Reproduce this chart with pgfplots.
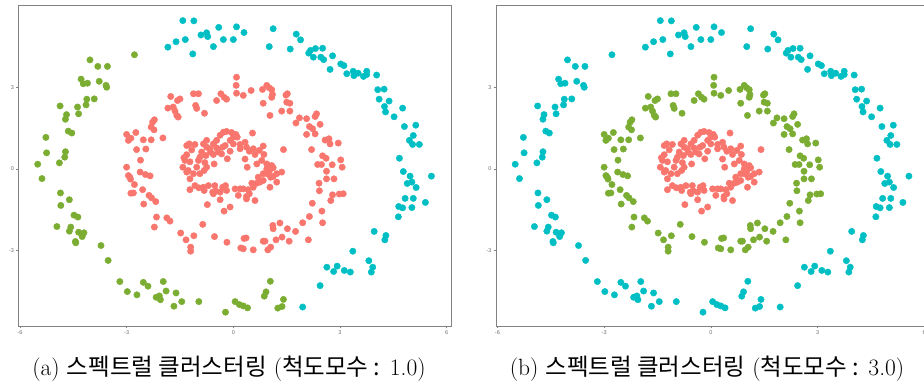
\documentclass[border=0pt]{standalone}
\usepackage{fontspec}
\usepackage{pgfplots}
\usepackage{pgfplotstable}
\pgfplotsset{compat=1.18}
\newfontfamily\kr{Noto Sans CJK KR}
\newfontfamily\tickfont{Liberation Sans}
\definecolor{cred}{HTML}{F8766D}
\definecolor{cgreen}{RGB}{122,173,50}
\definecolor{cteal}{HTML}{00BFC4}
\definecolor{frame}{RGB}{130,130,130}
\definecolor{ticktext}{RGB}{110,110,110}

% outer ring, part coloured green in panel (a)
\pgfplotstableread{
x y
-2.78 4.21
-4.03 4.02
-3.81 3.78
-3.54 3.78
-4.28 3.31
-4.22 3.14
-4.10 3.16
-3.77 3.23
-3.58 3.08
-3.56 3.01
-4.12 2.57
-3.91 2.58
-4.14 2.36
-4.87 2.32
-4.38 2.28
-4.69 2.00
-4.35 2.03
-4.72 1.83
-4.64 1.39
-4.54 1.32
-5.27 1.16
-5.25 0.59
-4.72 0.63
-4.74 0.43
-4.89 0.22
-5.50 0.17
-5.38 -0.36
-4.86 -0.89
-4.85 -1.35
-4.61 -1.14
-4.48 -1.71
-4.37 -1.78
-4.96 -2.13
-4.57 -2.15
-4.61 -2.30
-4.35 -2.34
-4.20 -2.36
-4.25 -2.50
-4.44 -2.68
-4.43 -2.73
-3.72 -2.83
-3.52 -3.38
-3.19 -4.16
-2.98 -4.53
-2.71 -4.65
-2.53 -4.19
-2.40 -4.33
-2.17 -4.74
-2.05 -4.83
-2.08 -4.69
-1.97 -4.16
-1.89 -4.51
-1.61 -4.58
-1.67 -5.07
-1.45 -4.90
-0.97 -4.90
-0.22 -5.29
0.05 -4.90
0.17 -5.01
0.28 -5.06
0.40 -5.13
0.87 -4.70
0.92 -4.54
1.04 -4.15
1.25 -5.14
1.41 -4.82
1.37 -5.08
}\outerG

% outer ring, part coloured teal in panel (a)
\pgfplotstableread{
x y
-1.42 5.47
-1.11 5.46
-0.41 5.22
0.09 5.24
0.30 5.03
-0.91 4.94
-0.75 5.02
-0.72 4.88
-1.61 4.69
-1.35 4.77
-1.84 4.49
-1.14 4.24
-0.56 4.51
-0.28 4.77
0.00 4.77
1.12 5.17
1.01 4.51
1.77 4.97
1.89 4.76
1.60 4.42
2.12 4.27
2.17 4.37
2.31 4.44
2.51 4.45
2.25 4.12
2.46 4.12
2.54 4.03
2.79 4.17
2.72 3.67
3.02 3.87
3.11 3.81
3.19 3.51
3.37 3.60
3.39 3.44
3.51 3.53
3.66 3.41
3.75 3.60
3.75 3.48
4.03 3.46
4.06 2.92
4.24 2.94
4.10 2.57
4.38 2.50
4.25 2.30
4.28 2.10
4.52 1.92
4.76 2.24
4.81 1.56
5.13 1.61
5.06 1.23
4.95 1.05
5.04 0.90
5.23 0.90
4.67 0.39
4.78 -0.10
4.97 -0.27
4.89 -0.54
5.02 -0.49
5.14 -0.69
5.57 -0.27
4.83 -1.09
5.06 -1.09
4.65 -1.39
4.76 -1.44
5.02 -1.43
5.40 -1.24
4.64 -1.77
3.96 -2.31
4.29 -2.46
4.26 -2.62
3.36 -3.04
2.63 -3.63
2.82 -3.79
2.92 -3.59
3.12 -3.75
3.29 -3.81
3.81 -3.39
3.92 -3.63
3.88 -3.81
2.44 -4.31
1.95 -5.10
}\outerT

% middle ring
\pgfplotstableread{
x y
0.09 3.38
0.08 3.08
0.09 2.79
0.28 2.71
0.50 2.89
-0.35 2.77
-0.26 2.64
-0.19 2.57
-0.47 2.52
-1.12 2.77
-0.98 2.77
-1.06 2.34
-1.03 2.23
-0.81 2.05
-1.76 2.67
-1.50 2.58
-1.57 2.52
-1.84 2.24
-1.69 2.28
-1.64 2.13
-1.59 1.97
-1.55 1.91
-2.22 1.81
-2.27 1.72
-2.31 1.54
-2.23 1.44
-2.74 1.34
-3.00 1.27
-2.95 1.05
-2.88 1.13
-2.53 1.07
-2.31 1.07
-1.98 1.14
-2.72 0.71
-2.46 0.73
-3.00 0.06
-2.95 -0.25
-2.91 -0.31
-2.89 -0.38
-2.78 -0.58
-2.62 -0.12
-2.47 -0.21
-2.34 -0.26
-2.61 0.32
-2.55 -0.77
-2.88 -0.90
-2.81 -0.89
-2.37 -0.98
-2.30 -1.07
-2.18 -1.21
-2.52 -1.30
-2.16 -1.78
-2.22 -2.15
-1.87 -1.81
-1.78 -1.93
-1.48 -2.37
-1.33 -2.62
-1.11 -2.47
-0.86 -2.05
-1.20 -2.89
-1.20 -3.04
-0.53 -2.50
-0.18 -2.71
0.28 -2.95
0.21 -2.92
0.36 -2.55
0.30 -2.57
0.56 -2.99
0.84 -2.67
0.89 -2.67
0.97 -2.99
1.05 -2.89
1.11 -2.09
1.12 -2.21
1.20 -2.62
1.37 -2.52
1.31 -2.00
1.52 -2.21
1.57 -2.67
1.75 -2.31
1.95 -1.99
2.11 -2.62
2.14 -1.76
2.22 -1.27
2.49 -1.56
2.51 -1.99
2.42 -0.81
2.41 -0.53
2.74 -1.17
2.79 -0.96
2.98 -0.93
3.09 -0.92
2.62 -0.37
2.83 -0.37
2.62 -0.09
2.48 0.16
2.37 0.16
2.78 0.15
3.02 0.33
3.06 0.06
2.51 0.48
2.61 0.39
2.20 0.71
2.95 0.95
2.69 1.11
2.72 0.92
2.58 1.06
2.06 1.27
2.30 1.29
2.23 1.48
2.44 1.64
2.14 1.56
2.06 1.85
2.34 2.03
2.30 1.93
1.86 1.88
1.76 1.69
1.59 2.13
1.36 2.13
1.50 2.46
1.59 2.42
1.48 2.72
1.52 2.77
1.03 1.97
0.84 2.42
1.08 2.64
1.08 2.92
0.94 3.08
1.01 2.99
0.82 2.93
1.10 2.74
}\middle

% inner ring
\pgfplotstableread{
x y
-0.28 1.35
-0.19 1.38
-0.05 1.34
0.07 1.27
0.11 1.17
-0.37 1.24
-0.47 1.05
-0.56 0.92
-0.75 1.05
-0.84 0.92
-1.08 0.90
-1.24 0.92
-1.31 0.86
-1.17 0.70
-1.31 0.52
-1.39 0.41
-1.36 0.31
-1.22 0.26
-1.42 0.06
-1.31 -0.12
-1.27 -0.06
-1.22 -0.37
-1.12 -0.18
-0.94 -0.18
-0.82 -0.06
-0.75 0.06
-1.03 0.06
-0.98 0.31
-0.94 0.43
-0.80 0.23
-0.89 0.62
-0.75 0.80
-0.66 0.74
-0.56 0.53
-0.77 0.49
-0.54 0.18
-0.47 0.77
-0.42 0.62
-0.33 0.55
-0.30 0.80
-0.17 0.37
-0.09 0.65
0.00 0.92
0.19 0.90
0.33 0.98
0.37 0.80
0.54 1.32
0.84 0.84
0.73 0.68
0.56 0.74
0.45 0.65
0.19 0.74
0.61 0.53
0.86 0.53
0.66 0.18
0.80 0.31
0.94 0.18
1.08 0.12
1.12 0.04
1.36 -0.12
1.22 -0.18
0.94 -0.18
0.84 -0.43
0.75 -0.49
0.66 -0.53
0.52 -0.53
0.56 -0.68
0.42 -0.77
0.19 -0.74
0.28 -0.74
0.05 -0.74
0.14 -0.98
0.37 -1.02
0.45 -0.92
0.61 -1.17
0.37 -1.11
-0.09 -1.41
-0.26 -1.56
-0.19 -0.80
-0.22 -0.62
-0.30 -0.68
-0.37 -0.86
-0.52 -0.62
-0.49 -0.82
-0.70 -0.62
-0.82 -0.80
-0.84 -0.68
-1.08 -0.62
-1.22 -0.77
-0.56 -0.92
-0.37 -1.14
-0.73 -1.32
1.41 0.71
1.05 -0.31
1.22 -0.49
1.03 -0.68
1.12 -0.28
0.94 0.00
1.01 -0.09
0.70 -0.31
0.84 -0.18
0.39 0.06
0.33 0.36
-0.58 -0.86
-0.97 -0.70
-0.64 0.62
0.00 1.17
-0.09 1.05
-0.23 0.86
}\inner

\pgfplotsset{
  panel/.style={
    scale only axis, width=432.5pt, height=320.3pt,
    anchor=south west,
    xmin=-6.04, xmax=6.12, ymin=-5.80, ymax=6.02,
    xtick={-6,-3,0,3,6}, ytick={-3,0,3},
    tick align=outside, tick pos=left,
    major tick length=2.5pt,
    every tick/.style={frame, line width=0.6pt},
    axis line style={frame, line width=0.9pt},
    tick label style={font=\tickfont\fontsize{5.5}{6}\selectfont, text=ticktext},
    /pgf/number format/assume math mode=true,
    xticklabel style={yshift=1.5pt},
    yticklabel style={xshift=1.5pt},
    clip=false,
    every axis plot/.append style={only marks, mark=*, mark size=3.2pt},
  },
}

\begin{document}
\begin{tikzpicture}[x=1pt,y=1pt]
\clip (0,0) rectangle (924,385);
\begin{axis}[panel, at={(18.5pt,59pt)}]
  \addplot[cgreen, mark options={draw=cgreen, fill=cgreen}] table {\outerG};
  \addplot[cteal, mark options={draw=cteal, fill=cteal}] table {\outerT};
  \addplot[cred, mark options={draw=cred, fill=cred}] table {\middle};
  \addplot[cred, mark options={draw=cred, fill=cred}] table {\inner};
\end{axis}
\begin{axis}[panel, at={(496pt,59pt)}]
  \addplot[cteal, mark options={draw=cteal, fill=cteal}] table {\outerG};
  \addplot[cteal, mark options={draw=cteal, fill=cteal}] table {\outerT};
  \addplot[cgreen, mark options={draw=cgreen, fill=cgreen}] table {\middle};
  \addplot[cred, mark options={draw=cred, fill=cred}] table {\inner};
\end{axis}
\node[font=\fontsize{23.5}{26}\selectfont] at (229,16) {(a) {\kr 스펙트럴 클러스터링} ({\kr 척도모수 :} 1.0)};
\node[font=\fontsize{23.5}{26}\selectfont] at (707,16) {(b) {\kr 스펙트럴 클러스터링} ({\kr 척도모수 :} 3.0)};
\end{tikzpicture}
\end{document}
